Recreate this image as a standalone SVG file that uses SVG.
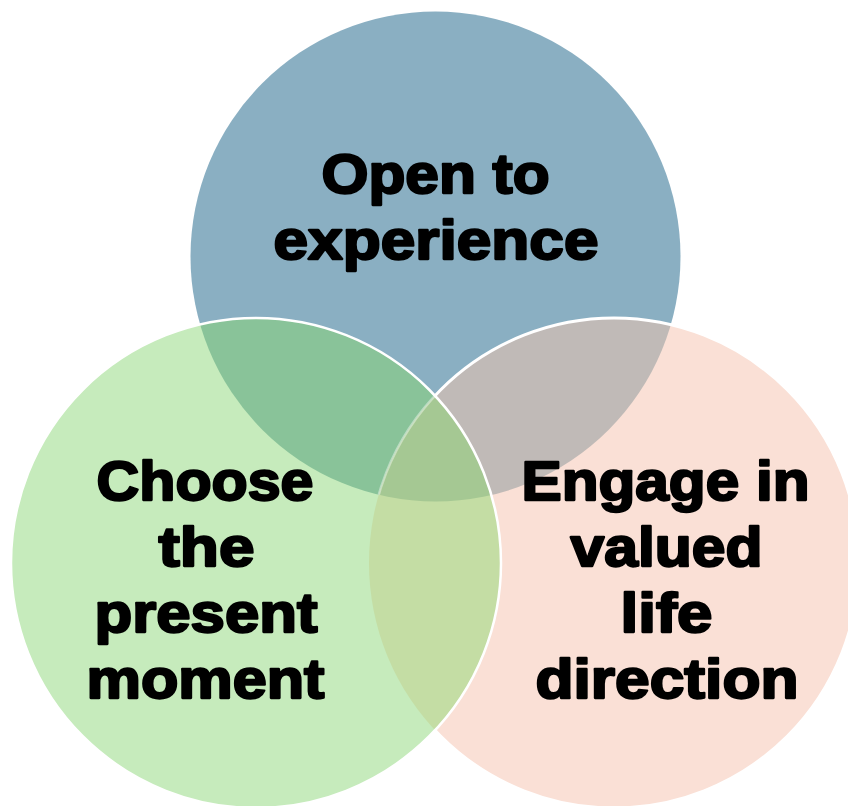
<svg xmlns="http://www.w3.org/2000/svg" width="848" height="806" viewBox="0 0 848 806">
  <style>
    .label { font-family: "Liberation Sans", Arial, sans-serif; font-weight: bold; font-size: 56px; fill: #000; stroke: #000; stroke-width: 2.3; stroke-linejoin: round; text-anchor: middle; }
    .ring { fill: none; stroke: #fff; }
  </style>
  <defs>
    <clipPath id="clipOpen"><circle cx="435.5" cy="256.5" r="245"/></clipPath>
    <clipPath id="clipChoose"><circle cx="256" cy="563" r="245"/></clipPath>
    <clipPath id="clipEngage"><circle cx="614" cy="563" r="245"/></clipPath>
  </defs>

  <!-- circle fills -->
  <g id="node-open">
    <circle cx="435.5" cy="256.5" r="245" fill="#8AAFC2"/>
  </g>
  <g id="node-engage">
    <circle cx="614" cy="563" r="245" fill="#FAE0D6"/>
    <circle cx="614" cy="563" r="245" fill="#C0BAB7" clip-path="url(#clipOpen)"/>
    <circle class="ring" cx="614" cy="563" r="245" stroke-width="3"/>
  </g>
  <g id="node-choose">
    <circle cx="256" cy="563" r="245" fill="#C6EBBC"/>
    <circle cx="256" cy="563" r="245" fill="#89C399" clip-path="url(#clipOpen)"/>
    <circle cx="256" cy="563" r="245" fill="#C4DDA4" clip-path="url(#clipEngage)"/>
    <g clip-path="url(#clipOpen)">
      <circle cx="256" cy="563" r="245" fill="#A5C893" clip-path="url(#clipEngage)"/>
    </g>
    <!-- faint edge of the right circle seen through the left one -->
    <g clip-path="url(#clipChoose)">
      <circle class="ring" cx="614" cy="563" r="245" stroke-width="2.5" stroke-opacity="0.4" clip-path="url(#clipOpen)"/>
    </g>
    <circle class="ring" cx="256" cy="563" r="245" stroke-width="2.5"/>
  </g>

  <!-- labels -->
  <g id="labels">
    <text class="label" x="435.5" y="193" textLength="228" lengthAdjust="spacingAndGlyphs">Open to</text>
    <text class="label" x="436" y="259" textLength="325" lengthAdjust="spacingAndGlyphs">experience</text>

    <text class="label" x="205" y="500" textLength="217" lengthAdjust="spacingAndGlyphs">Choose</text>
    <text class="label" x="206.5" y="566" textLength="96" lengthAdjust="spacingAndGlyphs">the</text>
    <text class="label" x="206" y="632" textLength="223" lengthAdjust="spacingAndGlyphs">present</text>
    <text class="label" x="205.5" y="698" textLength="238" lengthAdjust="spacingAndGlyphs">moment</text>

    <text class="label" x="665.5" y="500" textLength="288" lengthAdjust="spacingAndGlyphs">Engage in</text>
    <text class="label" x="666.5" y="566" textLength="192" lengthAdjust="spacingAndGlyphs">valued</text>
    <text class="label" x="666.5" y="632" textLength="92" lengthAdjust="spacingAndGlyphs">life</text>
    <text class="label" x="667" y="698" textLength="263" lengthAdjust="spacingAndGlyphs">direction</text>
  </g>
</svg>
